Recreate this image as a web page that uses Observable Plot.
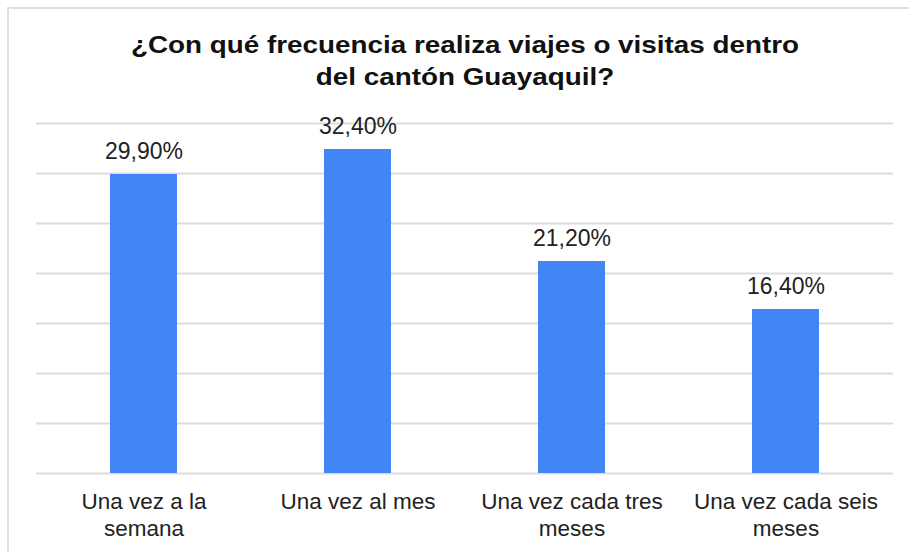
<!DOCTYPE html>
<html>
<head>
<meta charset="utf-8">
<script src="https://cdn.jsdelivr.net/npm/d3@7"></script>
<script src="https://cdn.jsdelivr.net/npm/@observablehq/plot@0.6"></script>
<style>
  html, body { margin: 0; padding: 0; background: #fff; }
  #wrap { position: relative; width: 909px; height: 552px; overflow: hidden; background: #fff; }
  #frame { position: absolute; left: 7px; top: 7px; width: 920px; height: 560px;
           border-top: 2px solid #e0e0e0; border-left: 2px solid #e0e0e0; box-sizing: border-box; }
  #title { position: absolute; left: 0; top: 29px; width: 930px; text-align: center;
           font-family: "Liberation Sans", Arial, sans-serif; font-weight: bold; font-size: 23px;
           line-height: 32px; color: #111; transform: scaleX(1.21); transform-origin: 465px 0; white-space: nowrap; }
  #chart { position: absolute; left: 0; top: 0; }
</style>
</head>
<body>
<div id="wrap">
  <div id="frame"></div>
  <div id="title">¿Con qué frecuencia realiza viajes o visitas dentro<br>del cantón Guayaquil?</div>
  <div id="chart"></div>
</div>
<script>
const categories = ["Una vez a la semana", "Una vez al mes", "Una vez cada tres meses", "Una vez cada seis meses"];
const values = [29.9, 32.4, 21.2, 16.4];
const tickLabels = ["Una vez a la\nsemana", "Una vez al mes", "Una vez cada tres\nmeses", "Una vez cada seis\nmeses"];
const yTicks = [0, 5, 10, 15, 20, 25, 30, 35];

const data = categories.map((c, i) => ({category: c, value: values[i]}));
const fmt = v => v.toFixed(2).replace(".", ",") + "%";

const chart = Plot.plot({
  width: 909,
  height: 552,
  marginLeft: 36,
  marginRight: 16,
  marginTop: 123,
  marginBottom: 79,
  style: {background: "transparent", fontFamily: "'Liberation Sans', Arial, sans-serif"},
  x: {domain: categories, paddingInner: 0.687, paddingOuter: 0.3435},
  y: {domain: [0, 35]},
  marks: [
    Plot.ruleY(yTicks, {stroke: "#dcdcdc", strokeWidth: 2}),
    Plot.barY(data, {x: "category", y: "value", fill: "#4285f4"}),
    Plot.text(data, {x: "category", y: "value", text: d => fmt(d.value), lineAnchor: "bottom", dy: -16,
      fontSize: 23, fill: "#222"}),
    Plot.axisX({tickSize: 0, tickPadding: 16, fontSize: 22.5, lineHeight: 1.2, fill: "#222",
      tickFormat: d => tickLabels[categories.indexOf(d)], label: null}),
    Plot.axisY({ticks: [], label: null, tickSize: 0})
  ]
});
document.getElementById("chart").appendChild(chart);
</script>
</body>
</html>
